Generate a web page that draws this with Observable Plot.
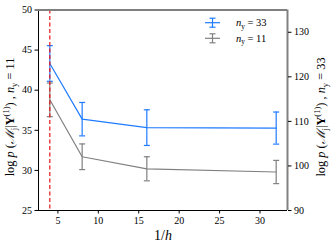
<!DOCTYPE html>
<html><head><meta charset="utf-8">
<script src="https://cdn.jsdelivr.net/npm/d3@7"></script>
<script src="https://cdn.jsdelivr.net/npm/@observablehq/plot@0.6"></script>
<style>body{margin:0;background:#fff} svg{font-family:"Liberation Serif",serif;}</style>
</head><body><div id="chart"></div>
<script>
const invH = [4, 8, 16, 32];
const ny33 = [123.0, 110.5, 108.6, 108.5];
const ny33Err = [4.0, 3.75, 4.0, 3.6];
const ny11 = [38.8, 31.7, 30.2, 29.8];
const ny11Err = [2.1, 1.6, 1.5, 1.45];
const xTicks = [5, 10, 15, 20, 25, 30];
const leftTicks = [25, 30, 35, 40, 45, 50];
const rightTicks = [90, 100, 110, 120, 130];
const xDomain = [2.6, 33.4];
const leftDomain = [25, 50];
const rightDomain = [90, 135];
const refLine = 4;
const blue = "#1f7bff", grey = "#808080";

const k = (leftDomain[1]-leftDomain[0])/(rightDomain[1]-rightDomain[0]);
const toLeft = v => leftDomain[0] + (v - rightDomain[0]) * k;
const fromLeft = v => rightDomain[0] + (v - leftDomain[0]) / k;

const s33 = invH.map((x,i)=>({x, y: toLeft(ny33[i]), lo: toLeft(ny33[i]-ny33Err[i]), hi: toLeft(ny33[i]+ny33Err[i])}));
const s11 = invH.map((x,i)=>({x, y: ny11[i], lo: ny11[i]-ny11Err[i], hi: ny11[i]+ny11Err[i]}));

const cap = {draw(ctx){ ctx.moveTo(-3,0); ctx.lineTo(3,0); }};

function errMarks(data, color){
  return [
    Plot.ruleX(data, {x:"x", y1:"lo", y2:"hi", stroke:color, strokeWidth:1.2}),
    Plot.dot(data, {x:"x", y:"lo", symbol:cap, stroke:color, strokeWidth:1.2, fill:"none"}),
    Plot.dot(data, {x:"x", y:"hi", symbol:cap, stroke:color, strokeWidth:1.2, fill:"none"}),
    Plot.line(data, {x:"x", y:"y", stroke:color, strokeWidth:1.2})
  ];
}

const chart = Plot.plot({
  width: 332, height: 248,
  marginLeft: 38, marginRight: 45, marginTop: 9.5, marginBottom: 38,
  style: {fontFamily: "Liberation Serif, serif", fontSize: "10px", color: "#000", background: "#fff"},
  x: {domain: xDomain},
  y: {domain: leftDomain},
  marks: [
    ...errMarks(s11, grey),
    ...errMarks(s33, blue),
    Plot.ruleX([refLine], {stroke:"#e8141a", strokeWidth:1.2, strokeDasharray:"4,2.5"}),
    Plot.ruleX([xDomain[0]], {stroke:"#000", strokeWidth:1}),
    Plot.ruleY([leftDomain[0]], {stroke:"#000", strokeWidth:1}),
    Plot.ruleY([leftDomain[1]], {stroke:grey, strokeWidth:2}),
    Plot.ruleX([xDomain[1]], {stroke:grey, strokeWidth:2}),
    Plot.axisX(xTicks, {tickSize:3.5, tickPadding:3, label:null, fontSize:10}),
    Plot.axisY(leftTicks, {anchor:"left", tickSize:3.5, tickPadding:3, label:null, fontSize:10}),
    Plot.axisY(rightTicks.map(toLeft), {anchor:"right", tickSize:3.5, tickPadding:3, label:null, fontSize:10, tickFormat: d => String(Math.round(fromLeft(d)))})
  ]
});
document.getElementById("chart").appendChild(chart);

const svg = d3.select(chart);
function richText(g, parts, size){
  const t = g.append("text").attr("font-size", size).attr("text-anchor","middle").attr("fill","#000");
  let shift = 0;
  for (const [s, st] of parts){
    const sp = t.append("tspan").text(s);
    let target = 0;
    if (st === "sub") { target = size*0.25; sp.attr("font-size", size*0.7); }
    if (st === "sup") { target = -size*0.4; sp.attr("font-size", size*0.7); }
    if (st === "i") sp.attr("font-style","italic");
    if (st === "b") sp.attr("font-weight","bold");
    if (target !== shift) { sp.attr("dy", target - shift); shift = target; }
  }
  return t;
}
function yLabel(n){
  return [["log ",""],["p","i"],[" (",""],["ℳ","i"],["j","sub"],["|",""],["Y","b"],["(1)","sup"],[")",""],[" , ",""],["n","i"],["y","sub"],[" = "+n,""]];
}
richText(svg.append("g").attr("transform","translate(14,117) rotate(-90)"), yLabel(11), 12.3);
richText(svg.append("g").attr("transform","translate(325,117) rotate(-90)"), yLabel(33), 12.3);
richText(svg.append("g").attr("transform","translate(163,240)"), [["1/",""],["h","i"]], 14);

// legend
const leg = svg.append("g");
[[blue, 33, 22.7],[grey, 11, 38.3]].forEach(([c, n, y])=>{
  leg.append("line").attr("x1",205).attr("x2",220).attr("y1",y).attr("y2",y).attr("stroke",c).attr("stroke-width",1.2);
  leg.append("line").attr("x1",212.5).attr("x2",212.5).attr("y1",y-4.5).attr("y2",y+4.5).attr("stroke",c).attr("stroke-width",1.2);
  leg.append("line").attr("x1",209.5).attr("x2",215.5).attr("y1",y-4.5).attr("y2",y-4.5).attr("stroke",c).attr("stroke-width",1.2);
  leg.append("line").attr("x1",209.5).attr("x2",215.5).attr("y1",y+4.5).attr("y2",y+4.5).attr("stroke",c).attr("stroke-width",1.2);
  const t = richText(leg.append("g").attr("transform",`translate(236,${y+3.5})`), [["n","i"],["y","sub"],[" = "+n,""]], 10.5);
  t.attr("text-anchor","start");
});
</script>
</body></html>
